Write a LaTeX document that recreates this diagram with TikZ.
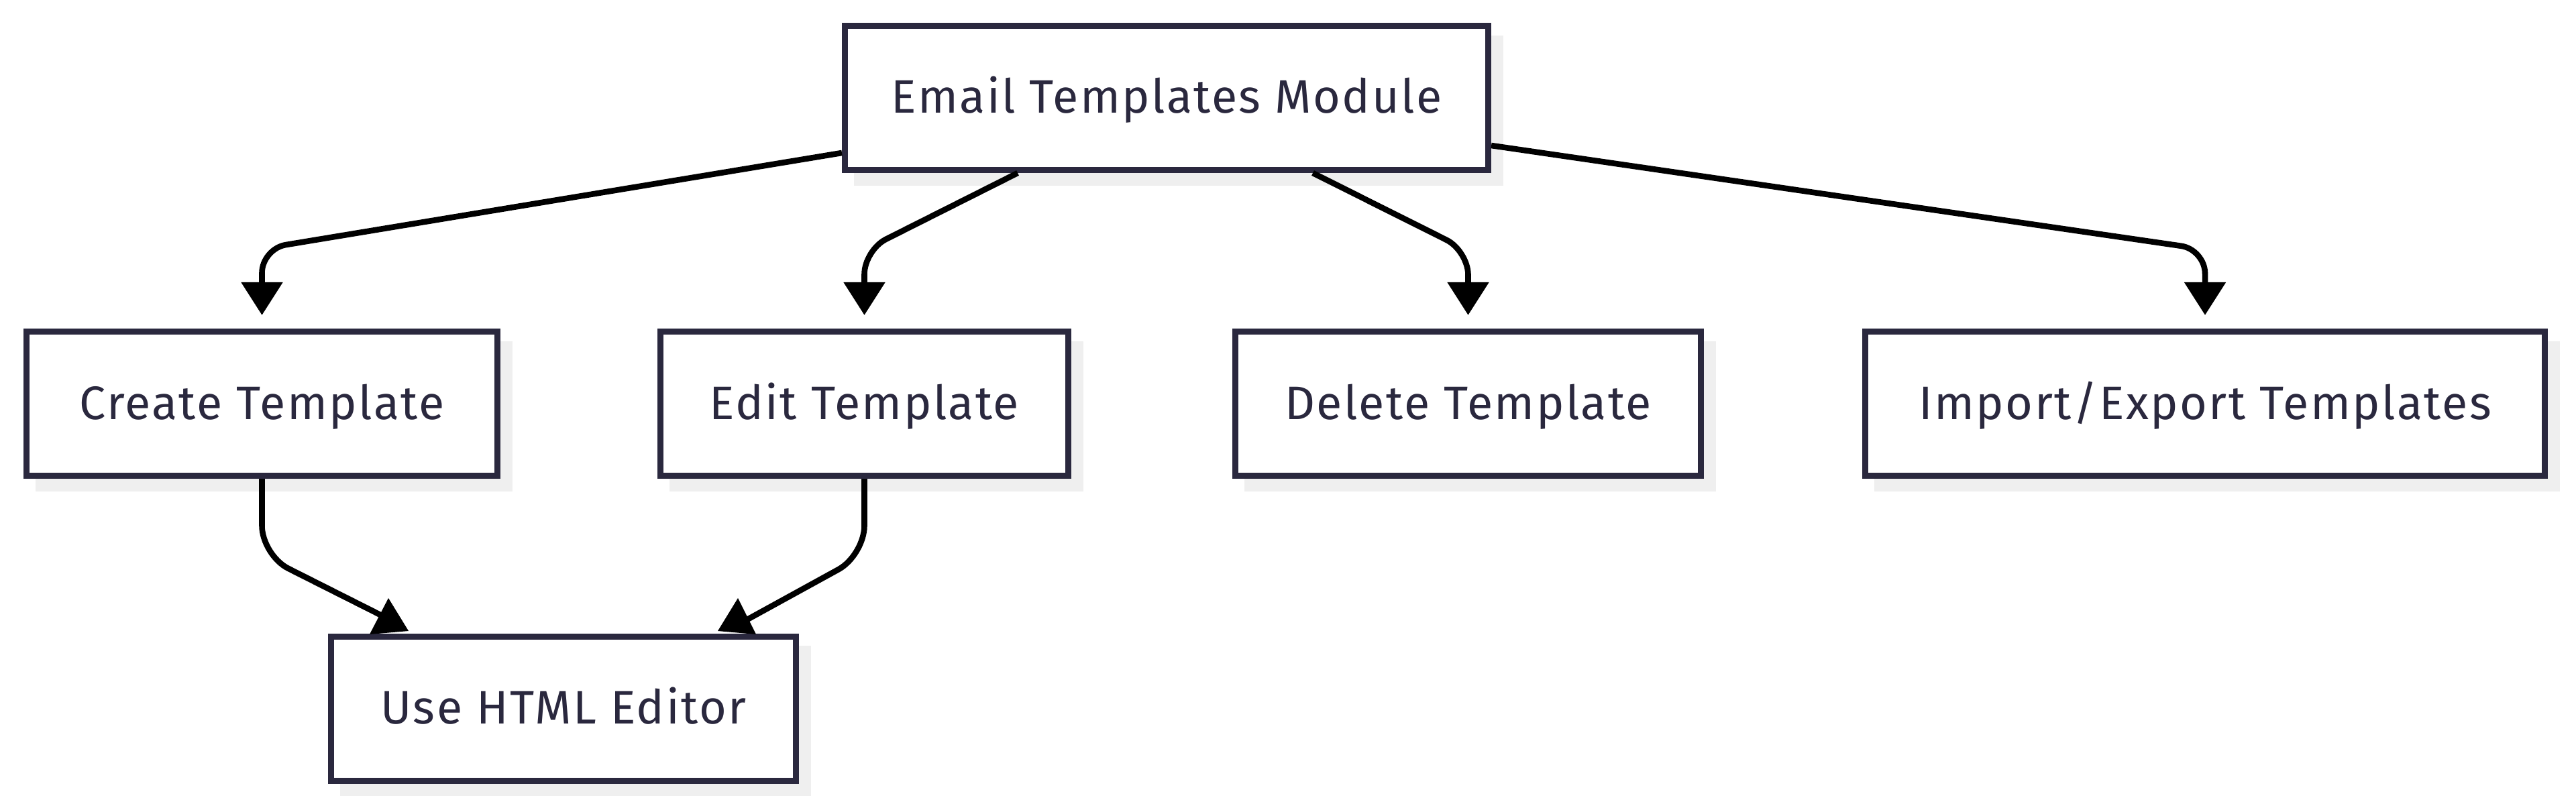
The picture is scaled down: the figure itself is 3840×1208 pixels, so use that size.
\documentclass[tikz,border=0pt]{standalone}
\usepackage{fontspec}
\setmainfont[LetterSpace=3.5]{Fira Sans}
\usetikzlibrary{arrows.meta}
\definecolor{boxline}{RGB}{42,40,62}
\definecolor{txt}{RGB}{42,40,62}
\definecolor{shgray}{RGB}{239,239,239}
\tikzset{
  box/.style={draw=boxline, line width=2.25pt, fill=white, rectangle,
    inner sep=0pt, minimum height=53.75pt, text=txt,
    text height=13pt, text depth=1.5pt,
    font=\fontsize{17.5}{20}\selectfont,
    preaction={draw=shgray, fill=shgray, transform canvas={xshift=4.6pt, yshift=-4.7pt}}},
  edge/.style={draw=black, line width=2.15pt, line join=round},
  tip/.style={-{Triangle[length=12.25pt, width=15pt]}},
  uptip/.style={fill=black, draw=none}
}
\begin{document}
\begin{tikzpicture}[x=0.25pt, y=-0.25pt]
\useasboundingbox (0,0) rectangle (3840,1208);
\node[box, minimum width=239.75pt] (top) at (1739,146) {Email Templates Module};
\node[box, minimum width=175.5pt] (create) at (390.5,602) {Create Template};
\node[box, minimum width=152pt] (edit) at (1288.5,602) {Edit Template};
\node[box, minimum width=173.5pt] (delete) at (2188.5,602) {Delete Template};
\node[box, minimum width=253.25pt] (import) at (3287,602) {Import/Export Templates};
\node[box, minimum width=173.25pt] (html) at (840,1056.5) {Use HTML Editor};

\draw[edge, tip, rounded corners=9pt] ([yshift=-20.5pt]top.west) -- (390.5,371) -- ([yshift=5pt]create.north);
\draw[edge, tip, rounded corners=9pt] ([xshift=-55.5pt]top.south) -- (1288.5,373) -- ([yshift=5pt]edit.north);
\draw[edge, tip, rounded corners=9pt] ([xshift=54.5pt]top.south) -- (2188.5,374) -- ([yshift=5pt]delete.north);
\draw[edge, tip, rounded corners=9pt] ([yshift=-17.75pt]top.east) -- (3287,372) -- ([yshift=5pt]import.north);

\coordinate (e5) at (575,921);
\coordinate (e6) at (1112,925);
\draw[edge, rounded corners=11pt] (create.south) -- (390.5,828) -- (e5);
\draw[edge, rounded corners=11pt] (edit.south) -- (1288.5,828) -- (e6);
\fill[uptip] (579,892) -- (609,941) -- (551,946) -- cycle;
\fill[uptip] (1100,892) -- (1127,946) -- (1070,941) -- cycle;
\end{tikzpicture}
\end{document}
